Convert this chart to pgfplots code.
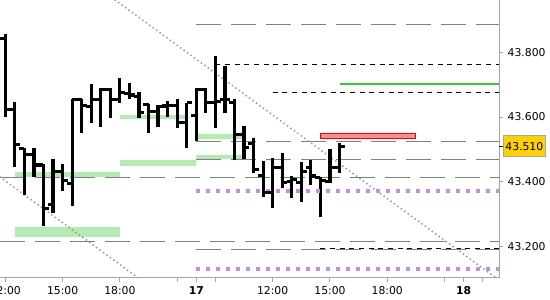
\documentclass[border=0pt]{standalone}
\usepackage{fontspec}
\setmainfont{DejaVu Sans}
\usepackage{pgfplots}
\pgfplotsset{compat=1.18}
\usepackage{pgfplotstable}

\definecolor{lvlgray}{RGB}{128,128,128}
\definecolor{axgray}{RGB}{165,165,165}
\definecolor{dotgray}{RGB}{150,150,150}
\definecolor{zonegreen}{RGB}{179,235,179}
\definecolor{lvlgreen}{RGB}{51,204,51}
\definecolor{lavender}{RGB}{200,140,225}
\definecolor{redfill}{RGB}{255,140,140}
\definecolor{gold}{RGB}{255,208,0}

\pgfdeclareplotmark{tickL}{\pgfpathmoveto{\pgfqpoint{-\pgfplotmarksize}{0pt}}\pgfpathlineto{\pgfqpoint{0pt}{0pt}}\pgfusepathqstroke}
\pgfdeclareplotmark{tickR}{\pgfpathmoveto{\pgfqpoint{0pt}{0pt}}\pgfpathlineto{\pgfqpoint{\pgfplotmarksize}{0pt}}\pgfusepathqstroke}

% OHLC bars, 30-minute bars indexed from 12:00 on day 16
\pgfplotstableread{
i  o      h      l      c
0  43.841 43.856 43.601 43.622
1  43.622 43.645 43.446 43.515
2  43.503 43.505 43.360 43.483
3  43.483 43.505 43.414 43.452
4  43.452 43.455 43.265 43.318
5  43.330 43.469 43.304 43.431
6  43.431 43.455 43.373 43.403
7  43.394 43.657 43.327 43.654
8  43.654 43.655 43.552 43.637
9  43.632 43.702 43.583 43.653
10 43.654 43.689 43.568 43.685
11 43.685 43.689 43.596 43.655
12 43.655 43.720 43.644 43.677
13 43.673 43.706 43.655 43.668
14 43.662 43.678 43.596 43.613
15 43.639 43.640 43.552 43.617
16 43.617 43.636 43.569 43.633
17 43.634 43.648 43.599 43.636
18 43.637 43.655 43.565 43.583
19 43.583 43.644 43.504 43.644
20 43.606 43.689 43.527 43.686
21 43.686 43.689 43.612 43.645
22 43.645 43.789 43.565 43.648
23 43.653 43.758 43.611 43.653
24 43.645 43.655 43.467 43.545
25 43.545 43.571 43.471 43.507
26 43.517 43.535 43.427 43.437
27 43.421 43.465 43.352 43.367
28 43.367 43.473 43.319 43.445
29 43.445 43.488 43.380 43.398
30 43.401 43.418 43.349 43.406
31 43.398 43.462 43.337 43.431
32 43.444 43.466 43.389 43.418
33 43.414 43.414 43.293 43.404
34 43.401 43.501 43.400 43.444
35 43.444 43.519 43.428 43.510
}\bars

\begin{document}
\begin{tikzpicture}
\begin{axis}[
  at={(0,0)}, anchor=south west,
  scale only axis, width=374.25pt, height=208.125pt,
  xmin=-0.555, xmax=51.7, ymin=43.105, ymax=43.961,
  axis x line*=bottom, axis y line*=right,
  axis line style={axgray, -, line width=0.75pt},
  xtick={0,6,12,18,20,22,28,34,40,46,48,50},
  xticklabels={12:00,15:00,18:00,,\textbf{17},,12:00,15:00,18:00,,\textbf{18},},
  ytick={43.2,43.4,43.6,43.8},
  yticklabels={43.200,43.400,43.600,43.800},
  tick align=outside, major tick length=3pt,
  tick style={axgray, line width=0.75pt},
  tick label style={font=\fontsize{8.1}{9.7}\selectfont, text=black},
  extra y ticks={43.510}, extra y tick labels={43.510},
  extra y tick style={
    tick style={black, line width=0.75pt}, major tick length=4.5pt,
    yticklabel style={fill=gold, draw=axgray, line width=0.6pt, inner xsep=1.6pt,
      minimum height=15.5pt, xshift=-1.6pt}},
  clip=true,
]
% green zones
\addplot[fill=zonegreen, draw=none] coordinates {(1,43.415) (12,43.415) (12,43.431) (1,43.431) (1,43.415)};
\addplot[fill=zonegreen, draw=none] coordinates {(1,43.230) (12,43.230) (12,43.261) (1,43.261) (1,43.230)};
\addplot[fill=zonegreen, draw=none] coordinates {(12,43.449) (20,43.449) (20,43.468) (12,43.468) (12,43.449)};
\addplot[fill=zonegreen, draw=none] coordinates {(12,43.594) (18.8,43.594) (18.8,43.606) (12,43.606) (12,43.594)};
\addplot[fill=zonegreen, draw=none] coordinates {(20,43.532) (25,43.532) (25,43.548) (20,43.548) (20,43.532)};
\addplot[fill=zonegreen, draw=none] coordinates {(20,43.470) (25,43.470) (25,43.483) (20,43.483) (20,43.470)};
% red zone
\addplot[fill=redfill, draw=red, line width=0.75pt] coordinates {(33,43.535) (43,43.535) (43,43.550) (33,43.550) (33,43.535)};
% gray long-dashed levels
\addplot[lvlgray, line width=0.75pt, dash pattern=on 18.75pt off 7.5pt] coordinates {(20,43.886) (51.7,43.886)};
\addplot[lvlgray, line width=0.75pt, dash pattern=on 18.75pt off 7.5pt] coordinates {(20,43.526) (51.7,43.526)};
\addplot[lvlgray, line width=0.75pt, dash pattern=on 18.75pt off 7.5pt] coordinates {(20,43.470) (51.7,43.470)};
\addplot[lvlgray, line width=0.75pt, dash pattern=on 18.75pt off 7.5pt] coordinates {(-0.555,43.414) (51.7,43.414)};
\addplot[lvlgray, line width=0.75pt, dash pattern=on 18.75pt off 7.5pt] coordinates {(-0.555,43.217) (51.7,43.217)};
\addplot[lvlgray, line width=0.75pt, dash pattern=on 18.75pt off 7.5pt] coordinates {(20,43.192) (51.7,43.192)};
% black short-dashed levels
\addplot[black, line width=0.75pt, dash pattern=on 3.75pt off 3.5pt] coordinates {(22,43.763) (51.7,43.763)};
\addplot[black, line width=0.75pt, dash pattern=on 3.75pt off 3.5pt] coordinates {(28,43.677) (51.7,43.677)};
\addplot[black, line width=0.75pt, dash pattern=on 3.75pt off 3.5pt] coordinates {(33,43.195) (51.7,43.195)};
% green level
\addplot[lvlgreen, line width=0.9pt] coordinates {(35,43.702) (51.7,43.702)};
% dotted channel lines
\addplot[dotgray, line width=1.1pt, dash pattern=on 1.1pt off 2.1pt] coordinates {(11.45,43.962) (51.7,43.097)};
\addplot[dotgray, line width=1.1pt, dash pattern=on 1.1pt off 2.1pt] coordinates {(-0.6,43.416) (14.0,43.102)};
% OHLC: high-low with open tick
\addplot[black, only marks, mark=tickL, mark size=3.9pt, mark options={line width=2.3pt, black},
  error bars/.cd, y dir=both, y explicit, error mark=none,
  error bar style={black, solid, line width=2.4pt}]
  table[x=i, y=o, y error plus expr=\thisrow{h}-\thisrow{o}, y error minus expr=\thisrow{o}-\thisrow{l}] {\bars};
% close tick
\addplot[black, only marks, mark=tickR, mark size=3.9pt, mark options={line width=2.3pt, black}]
  table[x=i, y=c] {\bars};
% purple dotted levels
\addplot[lavender, line width=3pt, dash pattern=on 3pt off 4.5pt] coordinates {(20,43.372) (51.7,43.372)};
\addplot[lavender, line width=3pt, dash pattern=on 3pt off 4.5pt] coordinates {(20,43.131) (51.7,43.131)};
\end{axis}
\pgfresetboundingbox
\useasboundingbox (0pt,-16.875pt) rectangle (412.5pt,208.125pt);
\end{tikzpicture}
\end{document}
